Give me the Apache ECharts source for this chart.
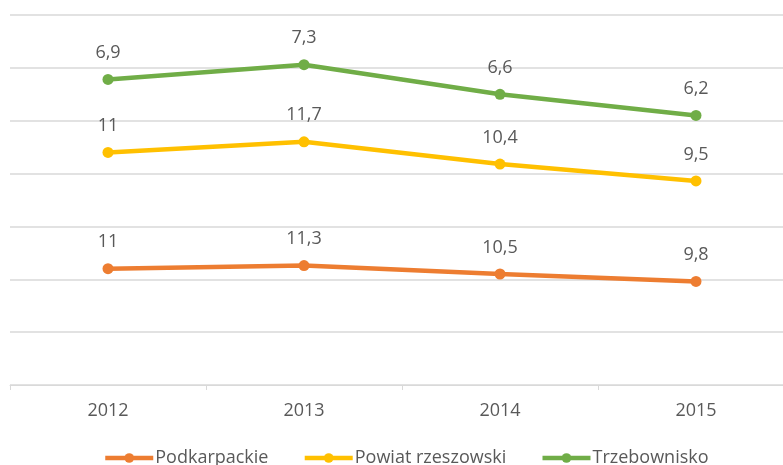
<!DOCTYPE html>
<html>
<head>
<meta charset="utf-8">
<script src="https://cdn.jsdelivr.net/npm/echarts@6/dist/echarts.min.js"></script>
<style>
    html, body { margin: 0; padding: 0; background: #fff; overflow: hidden; }
    #chart { width: 800px; height: 465px; }
</style>
</head>
<body>
<div id="chart"></div>
<script>
const years = ['2012', '2013', '2014', '2015']
const podkarpackie = [11, 11.3, 10.5, 9.8]
const powiat = [11, 11.7, 10.4, 9.5]
const trzebownisko = [6.9, 7.3, 6.6, 6.2]

const fontFamily = '"Open Sans", "Noto Sans", sans-serif'
const textColor = '#595959'

function lineSeries(name, data, color) {
    return {
        name: name,
        type: 'line',
        stack: 'total',
        data: data,
        symbol: 'circle',
        symbolSize: 11,
        itemStyle: { color: color },
        lineStyle: { color: color, width: 4.5 },
        label: {
            show: true,
            position: 'top',
            distance: 12,
            color: textColor,
            fontSize: 18,
            fontFamily: fontFamily,
            formatter: p => String(p.value).replace('.', ','),
        },
        animation: false,
    }
}

const chart = echarts.init(document.getElementById('chart'))
chart.setOption({
    grid: {
        left: 10,
        top: 15,
        width: 784,
        height: 370,
    },
    xAxis: {
        type: 'category',
        data: years,
        boundaryGap: true,
        axisLine: { lineStyle: { color: '#d9d9d9', width: 1 } },
        axisTick: { show: true, length: 5, lineStyle: { color: '#d9d9d9' } },
        axisLabel: {
            color: textColor,
            fontSize: 18,
            fontFamily: fontFamily,
            margin: 17,
        },
    },
    yAxis: {
        type: 'value',
        min: 0,
        max: 35,
        interval: 5,
        axisLine: { show: false },
        axisTick: { show: false },
        axisLabel: { show: false },
        splitLine: { lineStyle: { color: '#d9d9d9', width: 1.5 } },
    },
    legend: {
        top: 444,
        left: 98,
        itemWidth: 48,
        itemHeight: 12,
        itemGap: 34,
        lineStyle: { width: 4.5 },
        textStyle: {
            color: textColor,
            fontSize: 18,
            fontFamily: fontFamily,
            padding: [0, 0, 0, -3],
        },
        data: ['Podkarpackie', 'Powiat rzeszowski', 'Trzebownisko'],
    },
    series: [
        lineSeries('Podkarpackie', podkarpackie, '#ED7D31'),
        lineSeries('Powiat rzeszowski', powiat, '#FFC000'),
        lineSeries('Trzebownisko', trzebownisko, '#70AD47'),
    ],
})
</script>
</body>
</html>
